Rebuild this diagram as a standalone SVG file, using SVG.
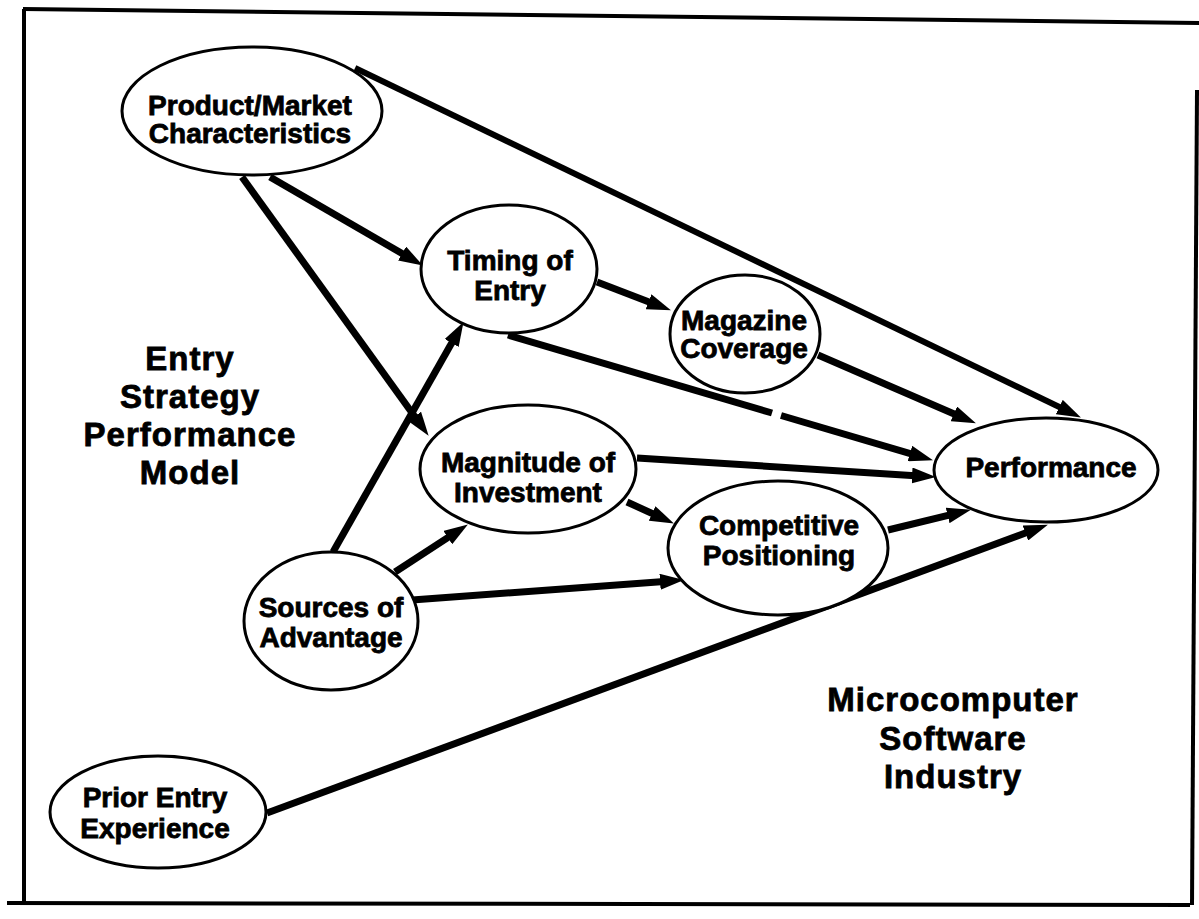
<svg xmlns="http://www.w3.org/2000/svg" width="1199" height="919" viewBox="0 0 1199 919">
  <style>
    .node ellipse { fill: #fff; stroke: #000; stroke-width: 3; }
    .node text { font-family: "Liberation Sans", Arial, sans-serif; font-weight: bold; font-size: 28px; fill: #000; stroke: #000; stroke-width: 0.8; text-anchor: middle; }
    .label { font-family: "Liberation Sans", Arial, sans-serif; font-weight: bold; font-size: 33px; fill: #000; stroke: #000; stroke-width: 0.8; text-anchor: middle; letter-spacing: 1px; }
    .edge { stroke: #000; stroke-width: 7; fill: none; marker-end: url(#arrow); }
    .edge.thin { stroke-width: 6; }
    .frame { stroke: #000; stroke-width: 4; fill: none; }
  </style>
  <defs>
    <marker id="arrow" markerUnits="userSpaceOnUse" markerWidth="24" markerHeight="16" refX="11" refY="8" orient="auto">
      <path d="M0,0 L24,8 L0,16 z" fill="#000"/>
    </marker>
  </defs>
  <rect width="1199" height="919" fill="#fff"/>

  <!-- outer frame -->
  <g id="frame">
    <line class="frame" x1="23" y1="9" x2="1199" y2="23"/>
    <line class="frame" x1="24" y1="9" x2="24" y2="903"/>
    <line class="frame" x1="7" y1="903" x2="1190" y2="905"/>
    <line class="frame" x1="1197" y1="90" x2="1192" y2="905"/>
  </g>

  <!-- connectors -->
  <g id="connectors">
    <line class="edge thin" x1="355" y1="68" x2="1069.2" y2="411.8"/>
    <line class="edge" x1="270" y1="177" x2="411.6" y2="259"/>
    <line class="edge" x1="242" y1="177" x2="421" y2="425.3"/>
    <line class="edge" x1="597" y1="282" x2="658.8" y2="305.7"/>
    <line class="edge" x1="508" y1="335" x2="772" y2="413" style="marker-end:none"/>
    <line class="edge" x1="781" y1="415.5" x2="920.5" y2="456.6"/>
    <line class="edge" x1="818" y1="355" x2="964" y2="418.2"/>
    <line class="edge" x1="637" y1="458" x2="923" y2="476.2"/>
    <line class="edge" x1="627" y1="502" x2="662.1" y2="518"/>
    <line class="edge" x1="888" y1="530" x2="958.3" y2="512.8"/>
    <line class="edge" x1="333" y1="552" x2="457.1" y2="333.4"/>
    <line class="edge" x1="395" y1="572" x2="457" y2="531.6"/>
    <line class="edge" x1="412" y1="600" x2="671" y2="580.9"/>
    <line class="edge" x1="267" y1="813" x2="1035.7" y2="529.2"/>
  </g>

  <!-- nodes -->
  <g id="product-market" class="node">
    <ellipse cx="252" cy="111" rx="130" ry="64"/>
    <text x="250" y="115">Product/Market</text>
    <text x="250" y="143">Characteristics</text>
  </g>
  <g id="timing" class="node">
    <ellipse cx="509" cy="269" rx="88" ry="64"/>
    <text x="510" y="270">Timing of</text>
    <text x="510" y="300">Entry</text>
  </g>
  <g id="magazine" class="node">
    <ellipse cx="745" cy="334" rx="75" ry="59"/>
    <text x="744" y="330">Magazine</text>
    <text x="744" y="358">Coverage</text>
  </g>
  <g id="magnitude" class="node">
    <ellipse cx="528" cy="469" rx="108" ry="64"/>
    <text x="528" y="472">Magnitude of</text>
    <text x="528" y="502">Investment</text>
  </g>
  <g id="competitive" class="node">
    <ellipse cx="778" cy="548" rx="110" ry="67"/>
    <text x="779" y="535">Competitive</text>
    <text x="779" y="565">Positioning</text>
  </g>
  <g id="performance" class="node">
    <ellipse cx="1046" cy="470" rx="112" ry="52"/>
    <text x="1051" y="477">Performance</text>
  </g>
  <g id="sources" class="node">
    <ellipse cx="331" cy="621" rx="87" ry="69"/>
    <text x="331" y="617">Sources of</text>
    <text x="331" y="647">Advantage</text>
  </g>
  <g id="prior-entry" class="node">
    <ellipse cx="158" cy="812" rx="108" ry="56"/>
    <text x="155" y="807">Prior Entry</text>
    <text x="155" y="838">Experience</text>
  </g>

  <!-- side titles -->
  <g id="title-model">
    <text class="label" x="190" y="370">Entry</text>
    <text class="label" x="190" y="408">Strategy</text>
    <text class="label" x="190" y="446">Performance</text>
    <text class="label" x="190" y="484">Model</text>
  </g>
  <g id="title-industry">
    <text class="label" x="953" y="711">Microcomputer</text>
    <text class="label" x="953" y="750">Software</text>
    <text class="label" x="953" y="788">Industry</text>
  </g>
</svg>
